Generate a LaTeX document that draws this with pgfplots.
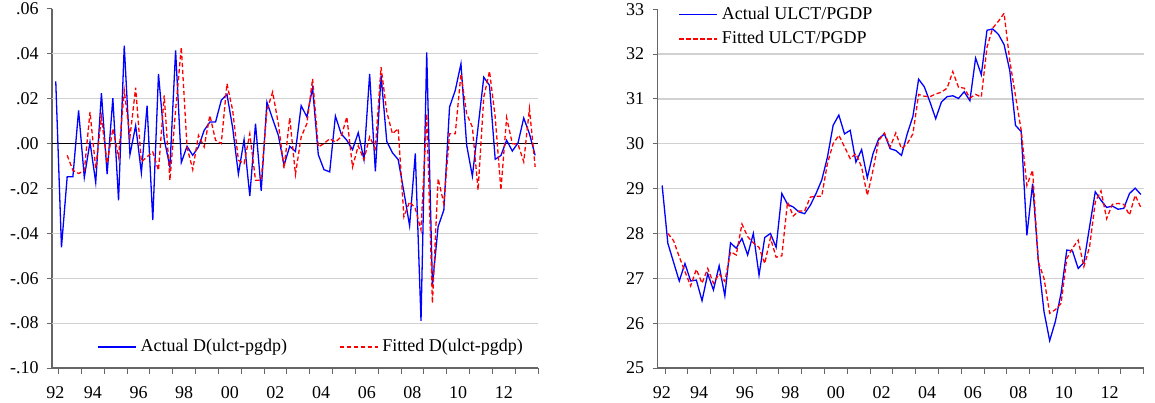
\documentclass[border=0pt]{standalone}
\usepackage{fontspec}
\setmainfont{Liberation Serif}
\usepackage{pgfplots}
\usepackage{pgfplotstable}
\pgfplotsset{compat=1.18}

\pgfplotstableread{
x y
1992.875 0.0277
1993.125 -0.0462
1993.375 -0.0148
1993.625 -0.0148
1993.875 0.0148
1994.125 -0.0151
1994.375 0.0007
1994.625 -0.0173
1994.875 0.0225
1995.125 -0.0136
1995.375 0.0203
1995.625 -0.0253
1995.875 0.0437
1996.125 -0.0049
1996.375 0.0080
1996.625 -0.0130
1996.875 0.0169
1997.125 -0.0341
1997.375 0.0311
1997.625 0.0020
1997.875 -0.0104
1998.125 0.0415
1998.375 -0.0084
1998.625 -0.0012
1998.875 -0.0052
1999.125 -0.0015
1999.375 0.0059
1999.625 0.0096
1999.875 0.0096
2000.125 0.0193
2000.375 0.0220
2000.625 0.0070
2000.875 -0.0136
2001.125 0.0018
2001.375 -0.0234
2001.625 0.0089
2001.875 -0.0210
2002.125 0.0185
2002.375 0.0110
2002.625 0.0037
2002.875 -0.0096
2003.125 -0.0012
2003.375 -0.0035
2003.625 0.0169
2003.875 0.0119
2004.125 0.0249
2004.375 -0.0049
2004.625 -0.0116
2004.875 -0.0126
2005.125 0.0123
2005.375 0.0044
2005.625 0.0015
2005.875 -0.0027
2006.125 0.0049
2006.375 -0.0071
2006.625 0.0311
2006.875 -0.0123
2007.125 0.0304
2007.375 0.0010
2007.625 -0.0041
2007.875 -0.0071
2008.125 -0.0215
2008.375 -0.0366
2008.625 -0.0044
2008.875 -0.0790
2009.125 0.0407
2009.375 -0.0630
2009.625 -0.0370
2009.875 -0.0296
2010.125 0.0163
2010.375 0.0237
2010.625 0.0356
2010.875 -0.0007
2011.125 -0.0145
2011.375 0.0074
2011.625 0.0296
2011.875 0.0260
2012.125 -0.0070
2012.375 -0.0053
2012.625 0.0015
2012.875 -0.0033
2013.125 0.0003
2013.375 0.0114
2013.625 0.0044
2013.875 -0.0052
}\leftact

\pgfplotstableread{
x y
1993.375 -0.0052
1993.625 -0.0119
1993.875 -0.0133
1994.125 -0.0121
1994.375 0.0141
1994.625 -0.0111
1994.875 0.0119
1995.125 -0.0089
1995.375 0.0067
1995.625 -0.0059
1995.875 0.0237
1996.125 0.0030
1996.375 0.0249
1996.625 -0.0081
1996.875 -0.0059
1997.125 -0.0037
1997.375 -0.0119
1997.625 0.0215
1997.875 -0.0163
1998.125 0.0150
1998.375 0.0430
1998.625 -0.0015
1998.875 -0.0116
1999.125 0.0037
1999.375 -0.0015
1999.625 0.0126
1999.875 0.0015
2000.125 0.0000
2000.375 0.0267
2000.625 0.0148
2000.875 -0.0074
2001.125 -0.0089
2001.375 0.0044
2001.625 -0.0163
2001.875 -0.0163
2002.125 0.0148
2002.375 0.0230
2002.625 0.0089
2002.875 -0.0111
2003.125 0.0115
2003.375 -0.0137
2003.625 0.0030
2003.875 0.0089
2004.125 0.0289
2004.375 -0.0015
2004.625 0.0000
2004.875 0.0022
2005.125 0.0007
2005.375 0.0030
2005.625 0.0119
2005.875 -0.0104
2006.125 -0.0010
2006.375 -0.0071
2006.625 0.0030
2006.875 -0.0022
2007.125 0.0341
2007.375 0.0141
2007.625 0.0044
2007.875 0.0067
2008.125 -0.0326
2008.375 -0.0259
2008.625 -0.0289
2008.875 -0.0385
2009.125 0.0133
2009.375 -0.0711
2009.625 -0.0156
2009.875 -0.0267
2010.125 0.0044
2010.375 0.0044
2010.625 0.0311
2010.875 0.0133
2011.125 0.0074
2011.375 -0.0207
2011.625 0.0207
2011.875 0.0323
2012.125 0.0119
2012.375 -0.0207
2012.625 0.0116
2012.875 0.0000
2013.125 -0.0003
2013.375 -0.0081
2013.625 0.0156
2013.875 -0.0104
}\leftfit

\pgfplotstableread{
x y
1992.875 29.07
1993.125 27.78
1993.375 27.36
1993.625 26.94
1993.875 27.33
1994.125 26.94
1994.375 26.96
1994.625 26.50
1994.875 27.10
1995.125 26.74
1995.375 27.28
1995.625 26.61
1995.875 27.79
1996.125 27.67
1996.375 27.89
1996.625 27.52
1996.875 28.00
1997.125 27.07
1997.375 27.91
1997.625 28.00
1997.875 27.69
1998.125 28.89
1998.375 28.65
1998.625 28.59
1998.875 28.48
1999.125 28.44
1999.375 28.63
1999.625 28.89
1999.875 29.19
2000.125 29.70
2000.375 30.41
2000.625 30.64
2000.875 30.22
2001.125 30.30
2001.375 29.59
2001.625 29.87
2001.875 29.24
2002.125 29.78
2002.375 30.11
2002.625 30.22
2002.875 29.89
2003.125 29.85
2003.375 29.74
2003.625 30.22
2003.875 30.61
2004.125 31.44
2004.375 31.27
2004.625 30.93
2004.875 30.56
2005.125 30.93
2005.375 31.05
2005.625 31.07
2005.875 31.01
2006.125 31.16
2006.375 30.96
2006.625 31.91
2006.875 31.54
2007.125 32.53
2007.375 32.56
2007.625 32.44
2007.875 32.21
2008.125 31.63
2008.375 30.41
2008.625 30.27
2008.875 27.96
2009.125 29.11
2009.375 27.41
2009.625 26.26
2009.875 25.61
2010.125 26.04
2010.375 26.67
2010.625 27.63
2010.875 27.61
2011.125 27.22
2011.375 27.35
2011.625 28.15
2011.875 28.93
2012.125 28.74
2012.375 28.58
2012.625 28.61
2012.875 28.54
2013.125 28.56
2013.375 28.89
2013.625 29.01
2013.875 28.87
}\rightact

\pgfplotstableread{
x y
1993.125 28.00
1993.375 27.84
1993.625 27.48
1993.875 27.15
1994.125 26.83
1994.375 27.20
1994.625 26.89
1994.875 27.22
1995.125 26.89
1995.375 27.10
1995.625 26.93
1995.875 27.59
1996.125 27.52
1996.375 28.21
1996.625 27.93
1996.875 27.79
1997.125 27.69
1997.375 27.33
1997.625 27.90
1997.875 27.47
1998.125 27.50
1998.375 28.70
1998.625 28.39
1998.875 28.50
1999.125 28.50
1999.375 28.81
1999.625 28.83
1999.875 28.83
2000.125 29.56
2000.375 30.00
2000.625 30.19
2000.875 29.93
2001.125 29.67
2001.375 29.78
2001.625 29.48
2001.875 28.85
2002.125 29.41
2002.375 30.07
2002.625 30.24
2002.875 29.93
2003.125 30.24
2003.375 29.89
2003.625 30.00
2003.875 30.22
2004.125 31.10
2004.375 31.06
2004.625 31.05
2004.875 31.11
2005.125 31.15
2005.375 31.24
2005.625 31.61
2005.875 31.26
2006.125 31.24
2006.375 31.02
2006.625 31.10
2006.875 31.04
2007.125 32.15
2007.375 32.58
2007.625 32.73
2007.875 32.91
2008.125 31.85
2008.375 31.07
2008.625 30.30
2008.875 29.07
2009.125 29.41
2009.375 27.37
2009.625 27.00
2009.875 26.22
2010.125 26.30
2010.375 26.44
2010.625 27.44
2010.875 27.67
2011.125 27.85
2011.375 27.26
2011.625 27.70
2011.875 28.70
2012.125 28.95
2012.375 28.33
2012.625 28.65
2012.875 28.67
2013.125 28.65
2013.375 28.41
2013.625 28.85
2013.875 28.58
}\rightfit

\pgfplotsset{
  eviews/.style={
    scale only axis,
    width=243pt,
    axis x line*=bottom,
    axis y line*=left,
    axis line style={-, black!60, line width=0.6pt},
    tick align=outside,
    major tick length=2.6pt,
    minor tick length=3pt,
    tick style={black!60, line width=0.5pt},
    xtick={1992.86,1994.5,1996.5,1998.5,2000.5,2002.5,2004.5,2006.5,2008.5,2010.5,2012.5},
    xticklabels={92,94,96,98,00,02,04,06,08,10,12},
    major x tick style={draw=none},
    minor xtick={1993,1994,1995,1996,1997,1998,1999,2000,2001,2002,2003,2004,2005,2006,2007,2008,2009,2010,2011,2012,2013,2014},
    ticklabel style={font=\fontsize{9}{10}\selectfont},
    xticklabel style={yshift=-3pt},
    yticklabel style={xshift=-0.6pt},
    legend style={draw=none, fill=none, font=\fontsize{9}{10}\selectfont},
    legend cell align=left,
    legend image code/.code={\draw[##1] (0pt,0pt) -- (19pt,0pt);},
    act/.style={blue, line width=0.65pt},
    fit/.style={red, line width=0.65pt, dash pattern=on 2.2pt off 1.3pt},
  }
}

\begin{document}
\begin{tikzpicture}
\path[use as bounding box] (0,0) rectangle (577.5pt,201pt);

\begin{axis}[eviews,
  at={(26pt,17pt)}, anchor=south west,
  height=179.5pt,
  xmin=1992.71, xmax=2014.0,
  ymin=-0.10, ymax=0.06,
  ytick={-0.1,-0.08,-0.06,-0.04,-0.02,0,0.02,0.04,0.06},
  yticklabels={-.10,-.08,-.06,-.04,-.02,.00,.02,.04,.06},
  extra y ticks={-0.08,-0.06,-0.04,-0.02,0.02,0.04},
  extra y tick labels={},
  extra y tick style={grid=major, major tick length=0pt},
  major grid style={black!18, line width=0.6pt},
  legend columns=2,
  legend style={at={(0.08,0.0585)}, anchor=west,
    /tikz/every even column/.append style={column sep=24pt}},
]
\addplot[black, line width=0.5pt, forget plot] coordinates {(1992.71,0) (2014.0,0)};
\addplot[act] table {\leftact};
\addlegendentry{Actual D(ulct-pgdp)}
\addplot[fit] table {\leftfit};
\addlegendentry{Fitted D(ulct-pgdp)}
\end{axis}

\begin{axis}[eviews,
  at={(328.85pt,17pt)}, anchor=south west,
  height=179.4pt,
  xmin=1992.68, xmax=2014.0,
  ymin=25, ymax=33,
  ytick={25,26,27,28,29,30,31,32,33},
  yticklabels={25,26,27,28,29,30,31,32,33},
  extra y ticks={26,27,28,29,30,31,32},
  extra y tick labels={},
  extra y tick style={grid=major, major tick length=0pt},
  major grid style={black!18, line width=0.6pt},
  legend style={at={(0.03,1.03)}, anchor=north west, row sep=0.5pt},
]
\addplot[act] table {\rightact};
\addlegendentry{Actual ULCT/PGDP}
\addplot[fit] table {\rightfit};
\addlegendentry{Fitted ULCT/PGDP}
\end{axis}
\end{tikzpicture}
\end{document}
